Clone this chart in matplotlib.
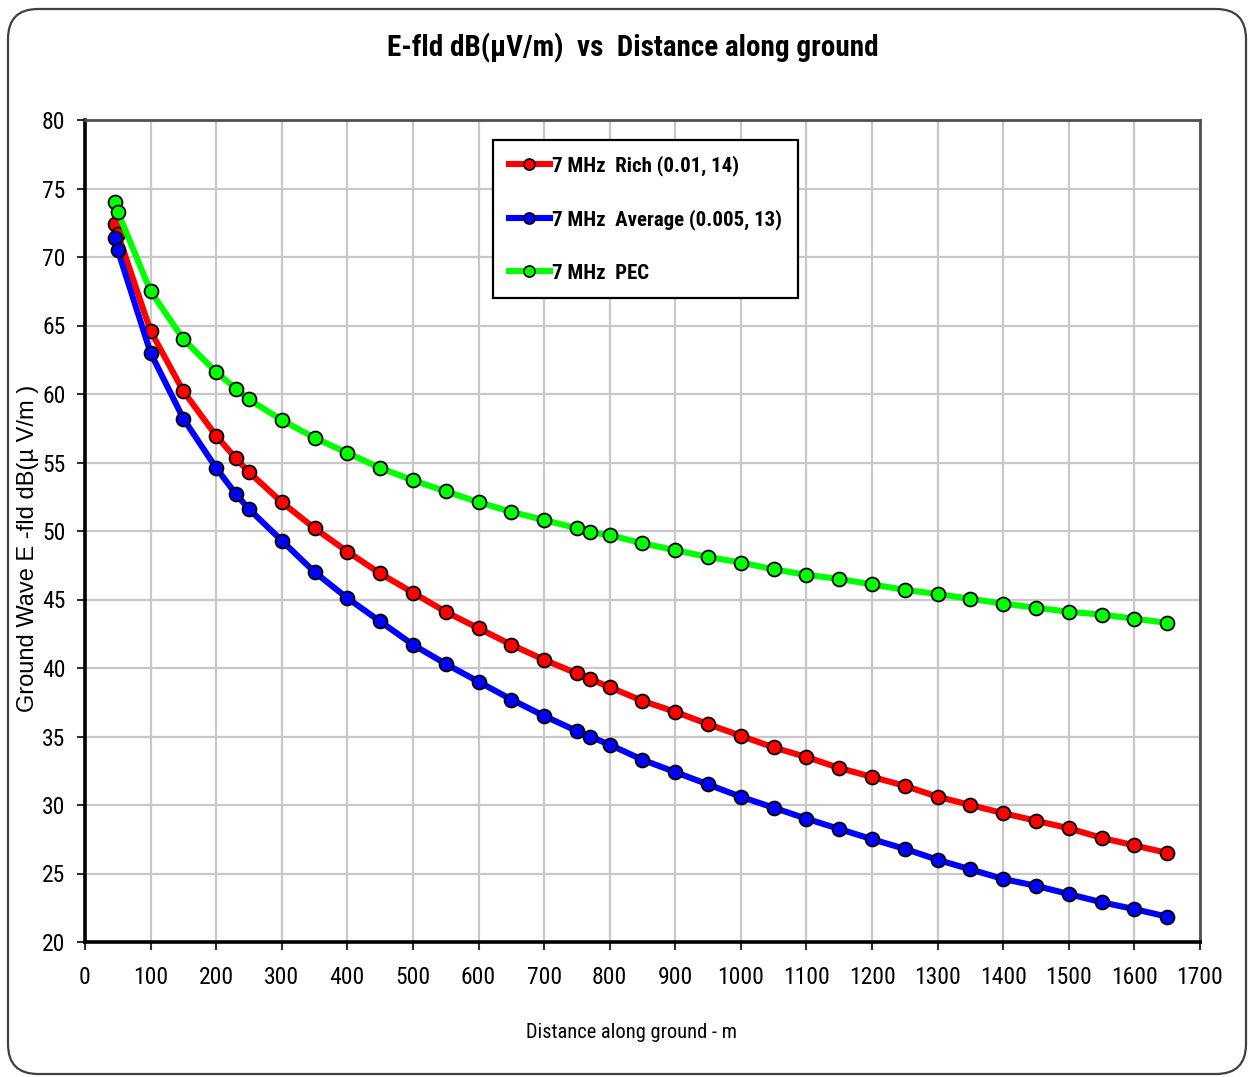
import matplotlib
matplotlib.use("Agg")
import matplotlib.pyplot as plt
from matplotlib.patches import FancyBboxPatch
from matplotlib.lines import Line2D
from matplotlib import font_manager as fm

installed = {f.name for f in fm.fontManager.ttflist}
narrow_pref = [n for n in ['Liberation Sans Narrow', 'Roboto Condensed', 'Open Sans Condensed',
                           'Arial Narrow'] if n in installed]
plt.rcParams['font.family'] = narrow_pref + ['Liberation Sans', 'DejaVu Sans']

distance = [45, 50, 100, 150, 200, 230, 250, 300, 350, 400, 450, 500, 550, 600,
            650, 700, 750, 770, 800, 850, 900, 950, 1000, 1050, 1100, 1150, 1200,
            1250, 1300, 1350, 1400, 1450, 1500, 1550, 1600, 1650]
rich = [72.4, 71.7, 64.6, 60.2, 56.95, 55.3, 54.3, 52.1, 50.2, 48.5, 46.9, 45.5,
        44.1, 42.9, 41.7, 40.6, 39.6, 39.2, 38.6, 37.6, 36.8, 35.9, 35.05, 34.2,
        33.5, 32.7, 32.05, 31.4, 30.6, 30.0, 29.4, 28.85, 28.3, 27.6, 27.05, 26.5]
average = [71.4, 70.5, 63.0, 58.2, 54.6, 52.7, 51.6, 49.3, 47.0, 45.1, 43.4, 41.7,
           40.3, 39.0, 37.7, 36.5, 35.4, 35.0, 34.4, 33.3, 32.4, 31.5, 30.6, 29.8,
           29.0, 28.25, 27.5, 26.8, 26.0, 25.3, 24.6, 24.1, 23.5, 22.9, 22.4, 21.85]
pec = [74.0, 73.3, 67.5, 64.0, 61.6, 60.4, 59.6, 58.1, 56.8, 55.7, 54.6, 53.7,
       52.9, 52.1, 51.4, 50.8, 50.2, 49.9, 49.7, 49.1, 48.6, 48.1, 47.7, 47.2,
       46.8, 46.5, 46.1, 45.7, 45.4, 45.05, 44.7, 44.4, 44.1, 43.9, 43.6, 43.3]

series_labels = ["7 MHz  Rich (0.01, 14)", "7 MHz  Average (0.005, 13)", "7 MHz  PEC"]
series_colors = ["#ff0000", "#0000ff", "#00ff00"]
x_ticks = list(range(0, 1701, 100))
y_ticks = list(range(20, 81, 5))

W, H, DPI = 1250, 1077, 100
fig = plt.figure(figsize=(W / DPI, H / DPI), dpi=DPI)

# rounded outer border
border = FancyBboxPatch((8 / DPI, 3 / DPI), (W - 12) / DPI, (H - 12) / DPI,
                        boxstyle="round,pad=0,rounding_size=0.3",
                        transform=fig.dpi_scale_trans, fill=False,
                        edgecolor="#404040", linewidth=1.6)
fig.patches.append(border)

ax = fig.add_axes([85 / W, 1 - 942 / H, (1200 - 85) / W, (942 - 120) / H])

for yv, lab, col in zip([rich, average, pec], series_labels, series_colors):
    ax.plot(distance, yv, color=col, lw=4.4, marker='o', markersize=10,
            markerfacecolor=col, markeredgecolor='black', markeredgewidth=1.3,
            label=lab, zorder=3)

ax.set_xlim(0, 1700)
ax.set_ylim(20, 80)
ax.set_xticks(x_ticks)
ax.set_yticks(y_ticks)
ax.grid(True, color="#c8c8c8", linewidth=1.6, zorder=0)
ax.set_axisbelow(True)

for s in ['left', 'bottom']:
    ax.spines[s].set_color('black')
    ax.spines[s].set_linewidth(2.6)
for s in ['top', 'right']:
    ax.spines[s].set_color('#505050')
    ax.spines[s].set_linewidth(2.0)

ax.tick_params(axis='both', direction='out', length=6, width=1.5, color='#303030',
               labelsize=17)
ax.tick_params(axis='x', pad=11)
ax.tick_params(axis='y', pad=8)

ax.set_xlabel("Distance along ground - m", fontsize=14.7)
ax.xaxis.set_label_coords((632 - 85) / 1115, -(1033 - 942) / 822)
ax.xaxis.label.set_va('center')
ax.set_ylabel("Ground Wave E -fld dB(µ V/m )", fontsize=17,
              family=['Liberation Sans', 'DejaVu Sans'])
ax.yaxis.set_label_coords(-(85 - 28) / 1115, (942 - 548) / 822)
ax.yaxis.label.set_va('center')

fig.text(633 / W, 1 - 48 / H, "E-fld dB(µV/m)  vs  Distance along ground",
         ha='center', va='center', fontsize=21, fontweight='bold')

handles = [Line2D([0], [0], color=c, lw=4.4, marker='o', markersize=8,
                  markerfacecolor=c, markeredgecolor='black', markeredgewidth=1.2)
           for c in series_colors]
leg = ax.legend(handles, series_labels, loc='upper left',
                bbox_to_anchor=((493 - 85) / 1115, (942 - 140) / 822),
                frameon=True, fancybox=False, edgecolor='black', framealpha=1,
                prop={'size': 15, 'weight': 'bold'}, handlelength=2.0,
                handletextpad=0.1, labelspacing=1.6, borderpad=0.75,
                borderaxespad=0)
leg.get_frame().set_linewidth(1.6)

fig.savefig("out.png", dpi=DPI)
